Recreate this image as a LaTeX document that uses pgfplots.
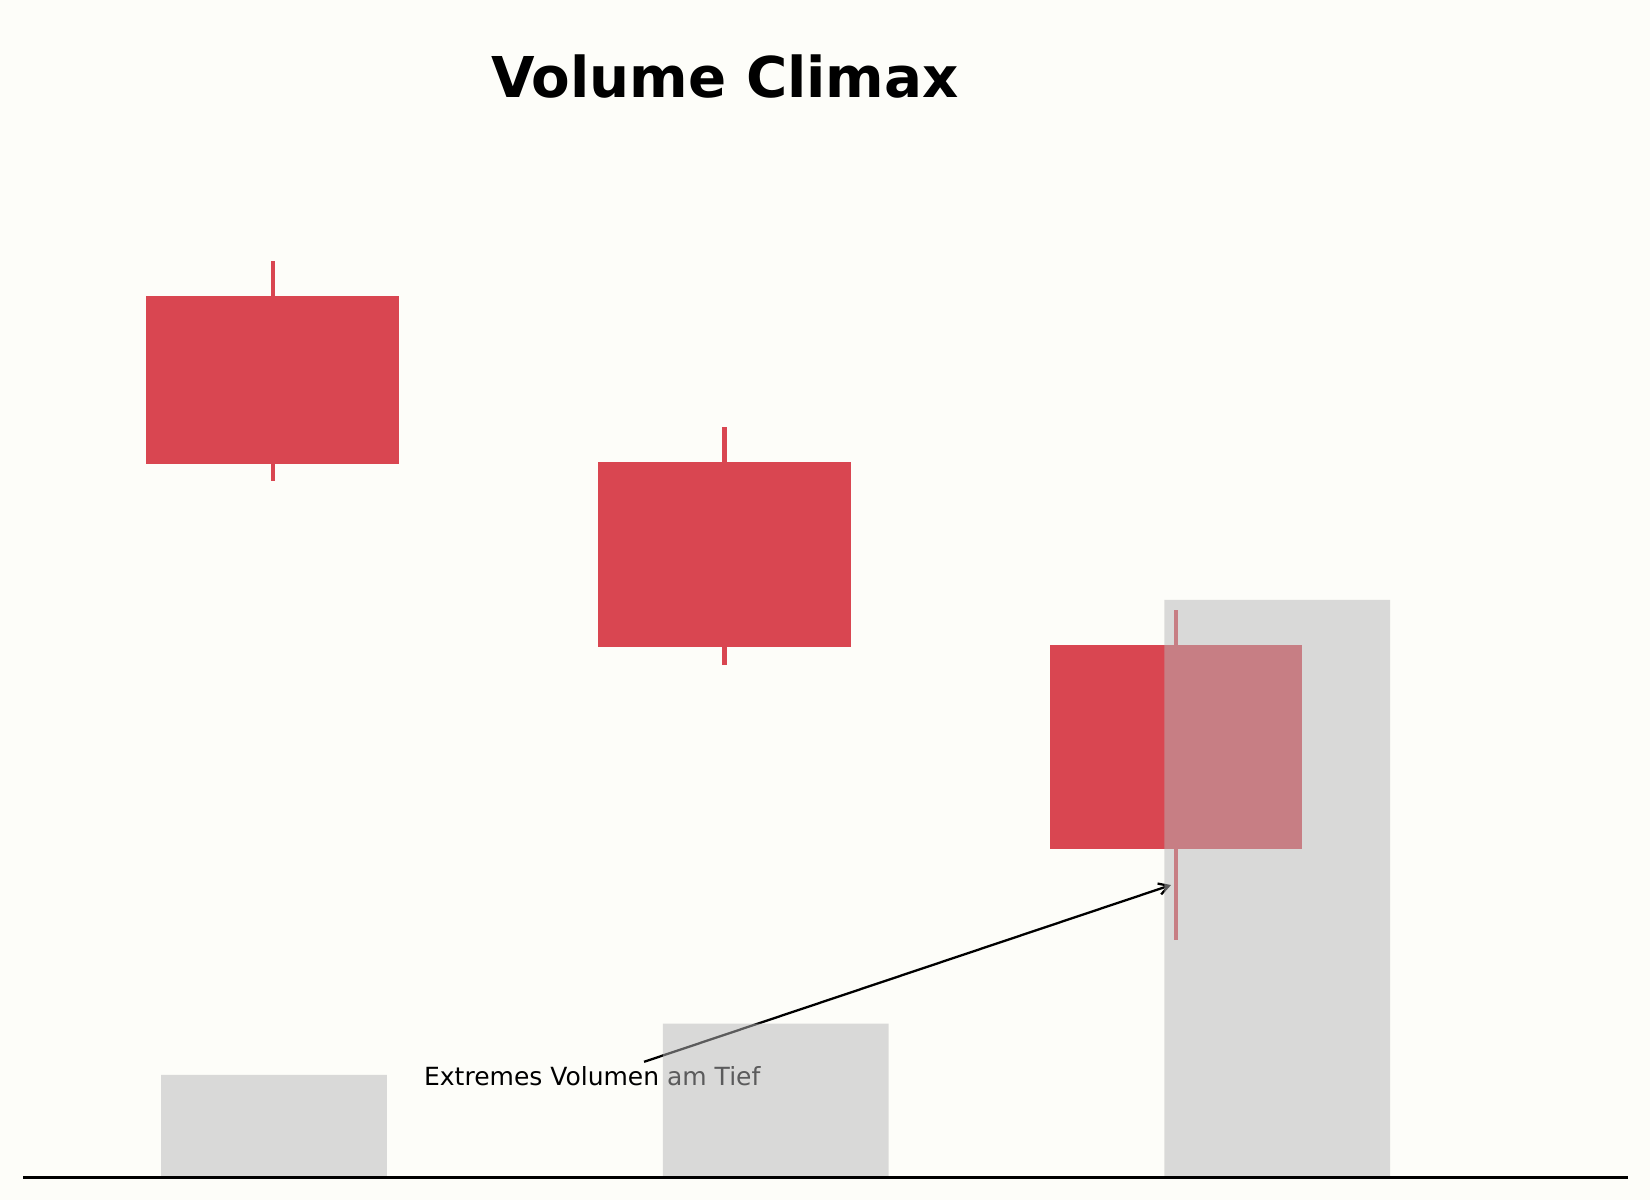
\documentclass[border=0pt]{standalone}
\usepackage{fontspec}
\setmainfont{DejaVu Sans}
\usepackage{pgfplots}
\pgfplotsset{compat=1.18}
\usetikzlibrary{arrows.meta}

\definecolor{bg}{RGB}{253,253,249}
\definecolor{candle}{RGB}{217,70,81}
\definecolor{vol}{RGB}{183,183,184}

\begin{document}
\begin{tikzpicture}
% page: 1650x1200 px, 1 px = 0.48pt
\fill[bg] (0,0) rectangle (792pt,576pt);
\useasboundingbox (0,0) rectangle (792pt,576pt);

\pgfplotsset{base/.style={
    at={(11.14pt,10.8pt)}, anchor=south west,
    scale only axis, width=770.5pt, height=495.5pt,
    hide axis, clip=false}}

\node[anchor=base, font=\bfseries\fontsize{27}{32}\selectfont] at (348pt,529.3pt) {Volume Climax};

% price candles
\begin{axis}[base, xmin=-0.553, xmax=3.002, ymin=73.72, ymax=104.50]
% wicks (low, high)
\addplot[candle, line width=2pt, unbounded coords=jump] coordinates {
    (0,94.5) (0,101.05) (0,nan)
    (1,89.0) (1,96.1) (1,nan)
    (2,80.8) (2,90.65)};
% bodies (open, close)
\addplot[fill=candle, draw=none] coordinates {(-0.28,100) (0.28,100) (0.28,95) (-0.28,95)};
\addplot[fill=candle, draw=none] coordinates {(0.72,95.05) (1.28,95.05) (1.28,89.55) (0.72,89.55)};
\addplot[fill=candle, draw=none] coordinates {(1.72,89.6) (2.28,89.6) (2.28,83.5) (1.72,83.5)};

\draw[line width=1.1pt, -{Straight Barb[length=4.8pt,width=5.5pt]}]
    (axis cs:0.822,77.17) -- (axis cs:1.989,82.44);
\node[anchor=base west, inner sep=0pt, font=\fontsize{12}{14}\selectfont]
    at (axis cs:0.334,76.45) {Extremes Volumen am Tief};
\end{axis}

% volume
\begin{axis}[base, xmin=-0.5, xmax=2.7, ymin=0, ymax=10070]
\addplot[ybar, bar width=0.45, fill=vol, fill opacity=0.5, draw=none]
    coordinates {(0,1000) (1,1500) (2,5635)};
\draw[black, line width=1.4pt] (rel axis cs:0,0) -- (rel axis cs:1,0);
\end{axis}
\end{tikzpicture}
\end{document}
